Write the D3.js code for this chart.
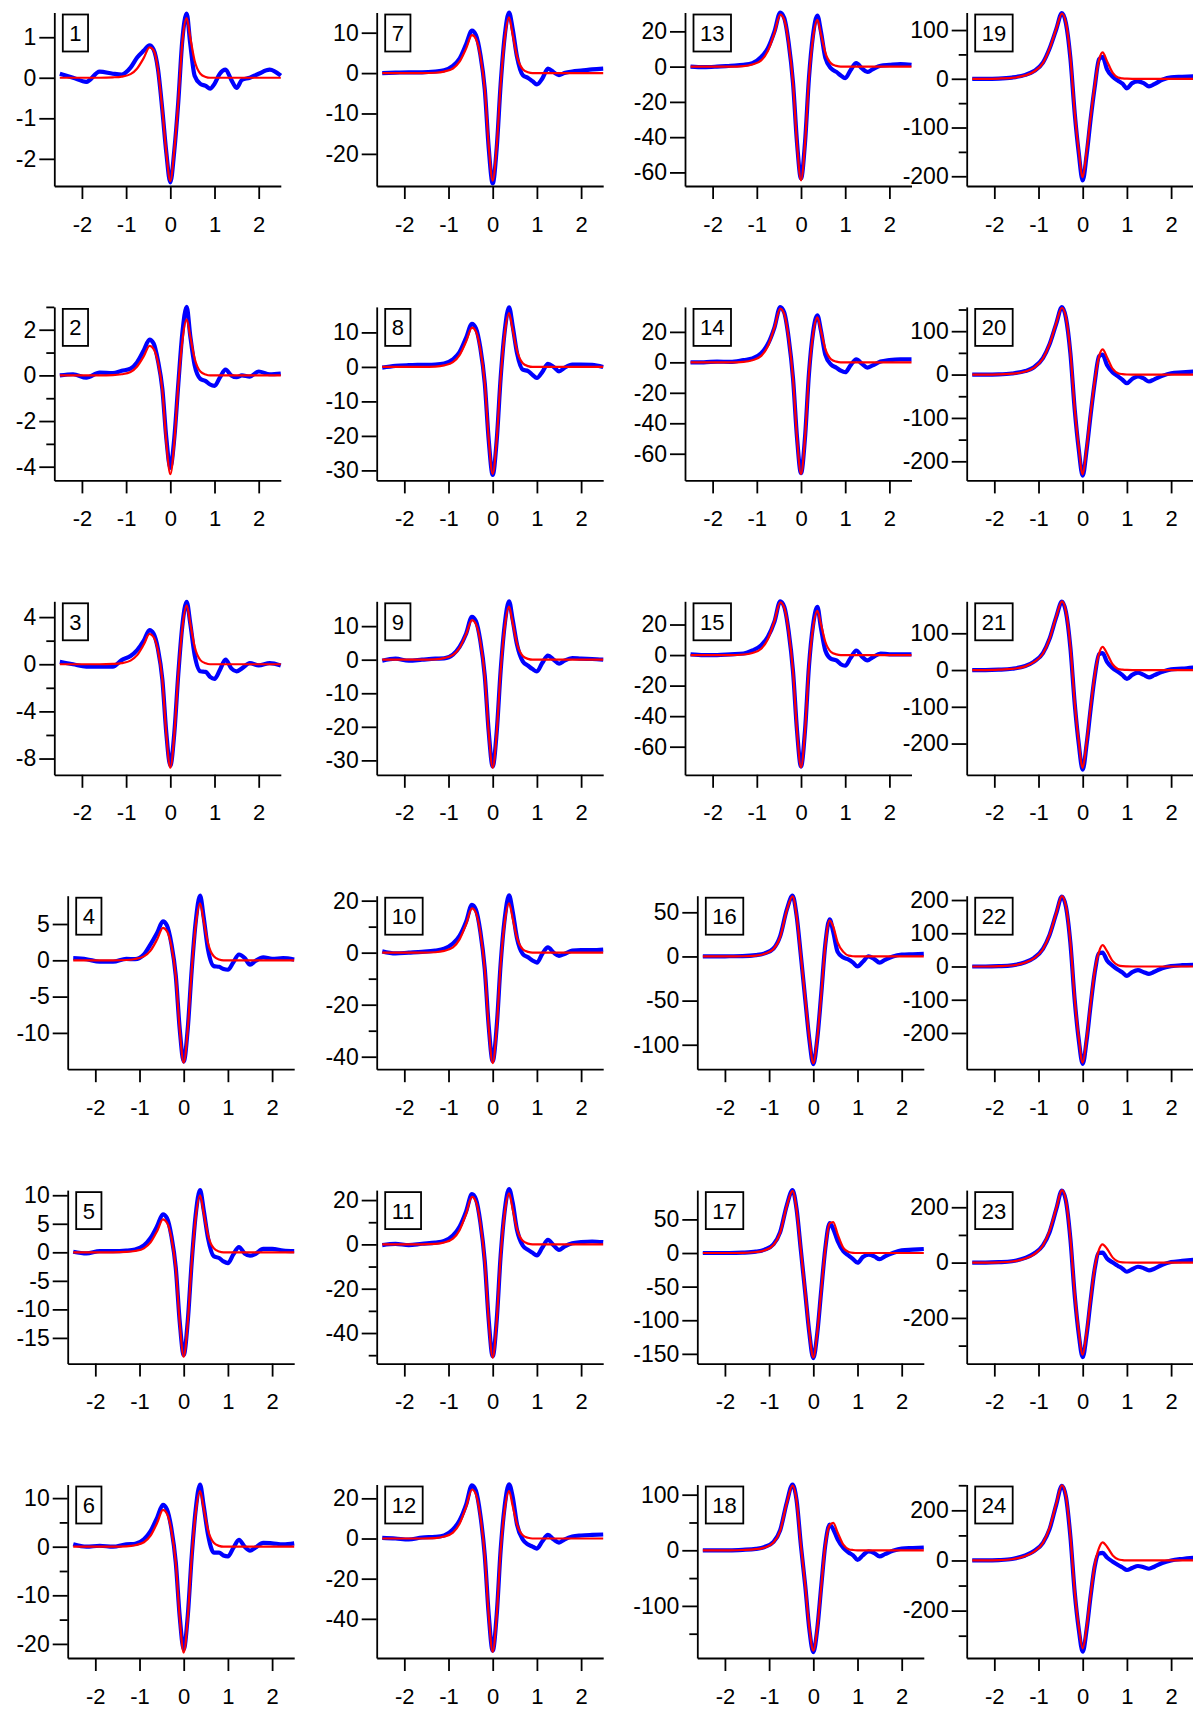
<!DOCTYPE html>
<html>
<head>
<meta charset="utf-8">
<script src="https://cdn.jsdelivr.net/npm/d3@7"></script>
<style>
  body { margin: 0; background: #fff; }
  svg { display: block; }
</style>
</head>
<body>
<script>
// shared x sample positions (time axis)
var xs = [-2.5, -2.2, -1.9, -1.6, -1.3, -1.1, -0.9, -0.75, -0.6, -0.47, -0.38, -0.28, -0.18, -0.09, 0, 0.09, 0.18, 0.27, 0.37, 0.45, 0.55, 0.68, 0.8, 0.9, 1.0, 1.12, 1.25, 1.38, 1.5, 1.62, 1.8, 2.0, 2.25, 2.5];
var xTicks = [-2, -1, 0, 1, 2];

var blue1 = [.1,0,-.1,.15,.1,.08,.25,.5,.67,.8,.7,.22,-.8,-1.85,-2.58,-1.8,-.6,.9,1.58,.85,.05,-.15,-.2,-.27,-.15,.1,.2,-.05,-.25,-.05,0,.1,.2,.05];
var red1 = [0,0,0,0,.01,.03,.09,.23,.49,.75,.68,.2,-.8,-1.85,-2.55,-1.78,-.6,.85,1.47,1.0,.42,.1,.02,0,0,0,0,0,0,0,0,0,0,0];
var blue2 = [0,.05,-.1,.12,.1,.2,.3,.58,1.1,1.57,1.41,.65,-.6,-2.75,-4.05,-2.75,-.4,1.8,3.0,1.75,.45,-.15,-.25,-.4,-.46,-.1,.25,0,-.08,0,-.05,.17,.05,.08];
var red2 = [0,0,0,0,.01,.05,.15,.39,.84,1.29,1.16,.58,-.65,-2.94,-4.33,-2.94,-.43,1.47,2.45,1.72,.74,.17,.04,0,0,0,0,0,0,0,0,0,0,0];
var blue3 = [.2,0,-.2,-.2,-.2,.35,.7,1.2,2.0,2.9,2.6,1.3,-1.29,-5.85,-8.6,-5.85,-.86,3.2,5.3,3.5,.8,-.6,-.65,-1.07,-1.24,-.5,.4,-.35,-.6,-.35,.1,-.1,.1,-.1];
var red3 = [0,0,0,0,.03,.1,.31,.77,1.67,2.57,2.31,1.16,-1.32,-5.97,-8.78,-5.97,-.88,3.0,5.0,3.5,1.5,.35,.08,0,0,0,0,0,0,0,0,0,0,0];
var blue4 = [.3,.15,-.2,-.2,.2,.15,.8,2.2,3.8,5.37,4.8,2.3,-2.1,-9.5,-13.95,-9.5,-1.4,5.2,8.9,6.0,1.5,-.8,-.9,-1.2,-1.3,-.3,.8,.3,-.6,-.1,.4,.2,.3,.1];
var red4 = [0,0,0,0,.04,.18,.54,1.34,2.9,4.47,4.02,2.01,-2.12,-9.59,-14.1,-9.59,-1.41,4.7,7.84,5.49,2.35,.55,.12,0,0,0,0,0,0,0,0,0,0,0];
var blue5 = [.1,-.2,.2,.2,.3,.5,1.2,2.5,4.6,6.67,6.0,2.9,-2.7,-12.2,-18.0,-12.2,-1.8,6.5,10.9,7.5,2.5,-.7,-1.0,-1.6,-1.9,-.4,.9,-.2,-.6,-.3,.6,.6,.3,.2];
var red5 = [0,0,0,0,.06,.23,.69,1.73,3.74,5.76,5.18,2.59,-2.75,-12.4,-18.3,-12.4,-1.83,6.0,10.0,7.0,3.0,.7,.15,0,0,0,0,0,0,0,0,0,0,0];
var blue6 = [.5,0,.2,0,.5,.6,1.5,3.2,6.0,8.6,7.7,3.8,-3.2,-14.4,-21.1,-14.4,-2.1,7.5,12.8,8.5,2.5,-1.2,-1.2,-1.8,-2.0,-.3,1.4,0,-.8,-.2,.8,.7,.5,.7];
var red6 = [0,0,0,0,.08,.3,.91,2.27,4.91,7.56,6.8,3.4,-3.27,-14.8,-21.8,-14.8,-2.18,6.87,11.45,8.0,3.44,.8,.17,0,0,0,0,0,0,0,0,0,0,0];
var blue7 = [0,.1,.2,.2,.4,.7,1.8,3.6,7.2,10.5,9.4,4.6,-4.0,-18.6,-27.3,-18.6,-2.7,9.0,15.0,11.0,4.0,-.5,-1.2,-2.0,-2.8,-1.4,1.1,.2,-.5,0,.4,.6,.9,1.1];
var red7 = [0,0,0,0,.09,.38,1.13,2.82,6.11,9.4,8.46,4.23,-3.99,-18.1,-26.6,-18.1,-2.66,8.28,13.8,9.66,4.14,.97,.21,0,0,0,0,0,0,0,0,0,0,0];
var blue8 = [-.2,.3,.5,.6,.7,1.0,2.2,4.3,8.5,12.5,11.2,5.5,-4.7,-21.3,-31.3,-21.3,-3.1,10.2,17.3,12.0,4.0,-.8,-1.2,-2.3,-3.2,-1.5,.9,0,-1.3,-.3,.7,.7,.6,0];
var red8 = [0,0,0,0,.11,.46,1.37,3.42,7.41,11.4,10.3,5.13,-4.65,-21.1,-31.0,-21.1,-3.1,9.36,15.6,10.9,4.68,1.09,.23,0,0,0,0,0,0,0,0,0,0,0];
var blue9 = [-.3,.3,-.3,0,.3,.4,1.5,3.8,7.8,12.8,11.5,5.6,-4.8,-21.6,-31.8,-21.6,-3.2,10.3,17.4,12.0,4.5,-.5,-1.8,-2.8,-3.5,-1.0,1.2,0,-1.2,-.3,.5,.3,.2,0];
var red9 = [0,0,0,0,.12,.47,1.42,3.54,7.67,11.8,10.6,5.31,-4.83,-21.9,-32.2,-21.9,-3.22,9.48,15.8,11.1,4.74,1.11,.24,0,0,0,0,0,0,0,0,0,0,0];
var blue10 = [.5,-.3,0,.3,.8,1.5,3.5,6.5,12.0,18.4,16.5,8.1,-6.3,-28.4,-41.7,-28.4,-4.2,12.8,22.0,16.0,5.5,-.5,-1.8,-3.0,-3.8,-.5,2.0,0,-1.2,-.5,.8,1.0,1.0,1.2];
var red10 = [0,0,0,0,.17,.68,2.04,5.1,11.05,17.0,15.3,7.65,-6.38,-28.9,-42.5,-28.9,-4.25,11.4,19.0,13.3,5.7,1.33,.29,0,0,0,0,0,0,0,0,0,0,0];
var blue11 = [-.3,.2,-.3,.3,.8,1.5,4.0,8.0,15.0,22.7,20.4,10.0,-7.6,-34.3,-50.5,-34.3,-5.0,15.0,25.0,19.0,6.5,-.5,-2.5,-3.8,-5.0,-1.5,2.0,-.5,-2.5,-1.0,.5,1.0,1.3,1.0];
var red11 = [0,0,0,0,.21,.86,2.57,6.42,13.9,21.4,19.3,9.63,-7.67,-34.7,-51.1,-34.7,-5.11,13.8,23.0,16.1,6.9,1.61,.35,0,0,0,0,0,0,0,0,0,0,0];
var blue12 = [.3,0,-.5,.5,.8,1.5,4.5,9.0,17.0,26.5,23.8,11.7,-8.4,-38.0,-55.9,-38.0,-5.6,16.0,27.0,21.0,7.0,-.5,-3.0,-4.0,-5.0,-1.5,1.8,-.5,-2.0,-.5,1.0,1.5,1.8,2.0];
var red12 = [0,0,0,0,.24,.98,2.93,7.32,15.9,24.4,22.0,11.0,-8.46,-38.4,-56.4,-38.4,-5.64,14.2,23.6,16.5,7.08,1.65,.35,0,0,0,0,0,0,0,0,0,0,0];
var blue13 = [0,-.3,0,.5,1.0,2.0,5.5,10.5,20.0,30.7,27.6,13.5,-9.5,-43.2,-63.5,-43.2,-6.4,17.5,29.0,20.0,5.0,-1.0,-3.0,-5.0,-6.5,-2.0,2.0,-1.0,-3.0,-1.5,.5,1.0,1.5,1.0];
var red13 = [0,0,0,0,.3,1.18,3.54,8.85,19.2,29.5,26.6,13.3,-9.68,-43.9,-64.5,-43.9,-6.45,15.9,26.5,18.6,7.95,1.86,.4,0,0,0,0,0,0,0,0,0,0,0];
var blue14 = [0,0,.5,.3,1.5,2.5,6.0,12.0,23.0,36.3,32.7,16.0,-10.9,-49.5,-72.8,-49.5,-7.3,19.0,30.9,21.0,5.0,-1.5,-3.5,-5.5,-6.5,-2.0,2.0,-1.0,-3.5,-2.0,.5,1.5,2.0,2.0];
var red14 = [0,0,0,0,.35,1.41,4.24,10.6,22.9,35.3,31.8,15.9,-11.0,-49.8,-73.3,-49.8,-7.33,17.8,29.6,20.7,8.88,2.07,.44,0,0,0,0,0,0,0,0,0,0,0];
var blue15 = [.5,0,0,.5,1.0,3.0,6.5,12.0,22.0,35.2,31.7,15.5,-11.0,-49.6,-73.0,-49.6,-7.3,19.0,31.5,18.0,3.0,-2.5,-3.5,-6.0,-7.0,-2.0,3.0,-1.0,-3.5,-1.5,1.0,.5,.5,.5];
var red15 = [0,0,0,0,.35,1.38,4.14,10.4,22.4,34.5,31.1,15.5,-11.0,-50.0,-73.5,-50.0,-7.35,17.4,29.0,20.3,8.7,2.03,.44,0,0,0,0,0,0,0,0,0,0,0];
var blue16 = [0,0,.2,.4,1.5,3.5,9,23,53,68.8,47,0,-50,-94,-122,-93,-42,13,42,28,5.2,-1.3,-3.5,-7,-11.3,-6,0,-3,-7,-4,0,2,2.5,3];
var red16 = [0,0,0,.2,1.0,3.0,8.5,22,52,68,46.5,0,-49,-92.6,-120.9,-92.6,-42.6,11.7,40.9,34,16,5.2,.9,.2,0,0,0,0,0,0,0,0,0,0];
var blue17 = [0,0,0,.5,2,5,13,31,71,93.6,66,3,-61,-119,-156.4,-119,-55,6,44.6,36,18,2.6,-4,-9,-14.4,-6,-2.6,-5,-9.2,-5,0,4,5,6];
var red17 = [0,0,0,.3,1.5,4,12,30,70,92.5,65,3,-60,-118,-155.4,-118,-55,5,44,46,28,7.7,1.5,.3,0,0,0,0,0,0,0,0,0,0];
var blue18 = [0,0,0,.8,2.5,6,15,36,86,118.2,91,8,-66,-142,-183.4,-141,-64,9,46,38,19.7,4.3,-4,-9,-17.2,-9,-2,-5,-11,-7,-1,3,4,5];
var red18 = [0,0,0,.5,2,5,14,35,85,116.3,90,8,-65,-140,-180.3,-140,-65,8,45,49.2,32,10,2,.5,0,0,0,0,0,0,0,0,0,0];
var blue19 = [0,0,.5,2.5,8,16,33,62,101,135,114,43,-72,-152,-208.6,-155,-82,-18,40,45,19.5,3.9,-3.9,-10,-19.5,-9,-5.4,-9,-15.6,-11,-2,3,4,5];
var red19 = [0,0,.5,2,7,15,32,62,102,134,115,45,-70,-148,-202,-148,-78,-15,39,54,36,12,2.5,.8,.2,0,0,0,0,0,0,0,0,0];
var blue20 = [0,0,.5,2.5,8,17,38,70,117,155.7,131,50,-82,-172,-233,-172,-92,-19,42,46,22,5,-4,-12,-20,-10,-4,-9,-16,-11,-3,3,5,7];
var red20 = [0,0,.5,2,7,16,37,70,118,154,132,52,-80,-168,-230,-168,-88,-16,42,58,40,13,3,1,.2,0,0,0,0,0,0,0,0,0];
var blue21 = [0,0,1,3.5,11,23,46,85,144,186,158,62,-93,-200,-271,-200,-105,-19,43,46,22,5,-5,-14,-24,-13,-7,-13,-20,-14,-5,2,4,7];
var red21 = [0,0,1,3,10,22,45,85,145,187,160,65,-90,-195,-266,-195,-100,-15,45,63,45,15,3,1,.2,0,0,0,0,0,0,0,0,0];
var blue22 = [0,0,1,3.5,13,26,53,95,159,210,180,72,-103,-220,-293,-220,-115,-20,40,42,18,2,-10,-18,-28,-17,-11,-17,-22,-16,-5,1,4,5];
var red22 = [0,0,1,3,12,25,52,95,160,212,182,75,-100,-215,-289,-215,-110,-15,45,64,46,16,4,1,.3,0,0,0,0,0,0,0,0,0];
var blue23 = [0,0,1.5,5,17,33,62,110,192,260,223,87,-120,-258,-342,-258,-135,-24,35,36,15,0,-12,-22,-33,-24,-15,-20,-28,-22,-8,2,6,10];
var red23 = [0,0,1,4,15,30,62,115,195,262,225,90,-115,-250,-333,-250,-130,-20,48,66,50,18,4,1,.3,0,0,0,0,0,0,0,0,0];
var blue24 = [0,0,1.5,6,20,38,70,125,222,298,255,97,-130,-273,-364,-273,-140,-25,28,30,12,-5,-18,-28,-38,-30,-22,-27,-33,-25,-10,0,6,10];
var red24 = [0,0,1,5,18,35,70,130,225,300,258,100,-125,-265,-351,-265,-135,-20,50,72,55,20,5,1.5,.4,0,0,0,0,0,0,0,0,0];

// y ranges and y tick values, panel 1..24
var yDomains = [[-2.67,1.61],[-4.6,3.0],[-9.38,5.34],[-15,8.9],[-19.5,10.9],[-22.9,12.8],
  [-27.95,15],[-32.9,17.4],[-34.3,17.4],[-44.8,21.9],[-53.8,24.5],[-59.5,26.9],
  [-67.7,30.7],[-77.5,36.4],[-78.4,35.2],[-127.7,68.8],[-164.5,93.6],[-193.7,118.3],
  [-220,136],[-244,156],[-285,187],[-309,213],[-365,262],[-389,303]];
var majorTicks = [[-2,-1,0,1],[-4,-2,0,2],[-8,-4,0,4],[-10,-5,0,5],[-15,-10,-5,0,5,10],[-20,-10,0,10],
  [-20,-10,0,10],[-30,-20,-10,0,10],[-30,-20,-10,0,10],[-40,-20,0,20],[-40,-20,0,20],[-40,-20,0,20],
  [-60,-40,-20,0,20],[-60,-40,-20,0,20],[-60,-40,-20,0,20],[-100,-50,0,50],[-150,-100,-50,0,50],[-100,0,100],
  [-200,-100,0,100],[-200,-100,0,100],[-200,-100,0,100],[-200,-100,0,100,200],[-200,0,200],[-200,0,200]];
var minorTicks = [[],[-3,-1,1,3],[-6,-2,2],[],[],[-15,-5,5],
  [],[],[],[-30,-10,10],[-50,-30,-10,10],[],
  [],[],[],[],[],[-150,-50,50],
  [-150,-50,50],[-150,-50,50,150],[],[],[-300,-100,100],[-300,-100,100,300]];

var blues = [blue1,blue2,blue3,blue4,blue5,blue6,blue7,blue8,blue9,blue10,blue11,blue12,
  blue13,blue14,blue15,blue16,blue17,blue18,blue19,blue20,blue21,blue22,blue23,blue24];
var reds = [red1,red2,red3,red4,red5,red6,red7,red8,red9,red10,red11,red12,
  red13,red14,red15,red16,red17,red18,red19,red20,red21,red22,red23,red24];

var width = 1193, height = 1710;
var font = "'Liberation Sans', Arial, sans-serif";
var plotW = 226.5, plotH = 173.5;
// y axis x-position per column (rows 1-3, rows 4-6)
var axisLeft = [[54.3, 67.7], [376.7, 376.7], [685, 697.3], [966.7, 966.7]];

var svg = d3.select("body").append("svg")
  .attr("width", width)
  .attr("height", height);
svg.append("rect").attr("width", width).attr("height", height).attr("fill", "#fff");

blues.forEach(function(blue, i) {
  var col = Math.floor(i / 6), row = i % 6;
  var left = axisLeft[col][row < 3 ? 0 : 1];
  var top = 12.5 + row * 294.4;
  var bottom = top + plotH;

  var x = d3.scaleLinear().domain([-2.625, 2.5]).range([left, left + plotW]);
  var y = d3.scaleLinear().domain(yDomains[i]).range([bottom, top]);
  var line = d3.line()
    .x(function(d, k) { return x(xs[k]); })
    .y(function(d) { return y(d); })
    .curve(d3.curveMonotoneX);

  var g = svg.append("g");

  g.append("path").datum(blue).attr("d", line)
    .attr("fill", "none").attr("stroke", "#0000ff")
    .attr("stroke-width", 4.2).attr("stroke-linejoin", "round");
  g.append("path").datum(reds[i]).attr("d", line)
    .attr("fill", "none").attr("stroke", "#ff0000")
    .attr("stroke-width", 2.2).attr("stroke-linejoin", "round");

  // axes
  var fmt = function(d) { return String(d); };
  var ya = g.append("g").attr("transform", "translate(" + left + ",0)")
    .call(d3.axisLeft(y).tickValues(majorTicks[i]).tickSize(15).tickSizeOuter(0).tickPadding(3).tickFormat(fmt));
  var ym = g.append("g").attr("transform", "translate(" + left + ",0)")
    .call(d3.axisLeft(y).tickValues(minorTicks[i]).tickSize(8).tickSizeOuter(0).tickFormat(""));
  ym.select(".domain").remove();
  var xa = g.append("g").attr("transform", "translate(0," + bottom + ")")
    .call(d3.axisBottom(x).tickValues(xTicks).tickSize(13).tickSizeOuter(0).tickPadding(17).tickFormat(fmt));

  [ya, ym].forEach(function(a) {
    a.selectAll("text").attr("font-size", 23);
  });
  xa.selectAll("text").attr("font-size", 22);
  [ya, ym, xa].forEach(function(a) {
    a.selectAll(".domain, .tick line").attr("stroke", "#000").attr("stroke-width", 1.8);
    a.selectAll("text").attr("font-family", font).attr("fill", "#000");
  });

  // panel number box
  var box = g.append("rect")
    .attr("x", left + 8.5).attr("y", top + 2)
    .attr("height", 37).attr("fill", "#fff")
    .attr("stroke", "#000").attr("stroke-width", 1.8);
  var lbl = g.append("text")
    .attr("y", top + 2 + 18.5)
    .attr("dy", "0.36em")
    .attr("text-anchor", "middle")
    .attr("font-family", font).attr("font-size", 22)
    .text(i + 1);
  var tw = lbl.node().getComputedTextLength();
  box.attr("width", tw + 13);
  lbl.attr("x", left + 8.5 + (tw + 13) / 2);
});
</script>
</body>
</html>
